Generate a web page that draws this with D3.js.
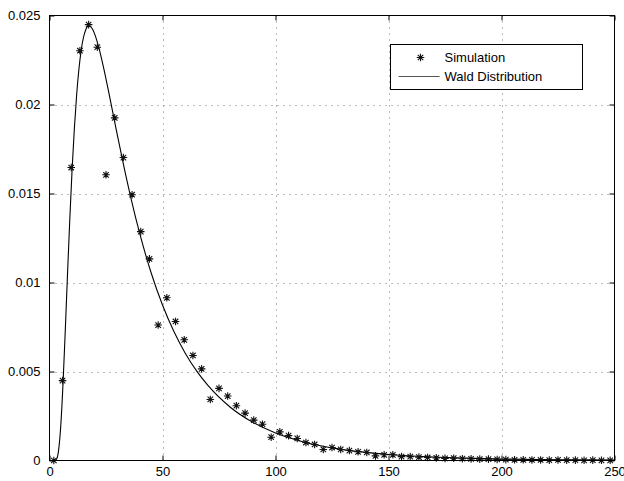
<!DOCTYPE html>
<html>
<head>
<meta charset="utf-8">
<script src="https://cdn.jsdelivr.net/npm/d3@7"></script>
<style>
  html, body { margin: 0; padding: 0; background: #fff; }
  svg { display: block; }
  text { font-family: "Liberation Sans", Arial, Helvetica, sans-serif; font-size: 13px; fill: #000; }
</style>
</head>
<body>
<svg id="chart" width="624" height="481"></svg>
<script>
// Histogram bin centres of the simulated samples (65 bins over 0–250)
const simX = [
  1.92, 5.77, 9.62, 13.46, 17.31, 21.15, 25.00, 28.85, 32.69, 36.54,
  40.38, 44.23, 48.08, 51.92, 55.77, 59.62, 63.46, 67.31, 71.15, 75.00,
  78.85, 82.69, 86.54, 90.38, 94.23, 98.08, 101.92, 105.77, 109.62, 113.46,
  117.31, 121.15, 125.00, 128.85, 132.69, 136.54, 140.38, 144.23, 148.08, 151.92,
  155.77, 159.62, 163.46, 167.31, 171.15, 175.00, 178.85, 182.69, 186.54, 190.38,
  194.23, 198.08, 201.92, 205.77, 209.62, 213.46, 217.31, 221.15, 225.00, 228.85,
  232.69, 236.54, 240.38, 244.23, 248.08
];
// Normalised histogram heights (simulation)
const simY = [
  0.00000, 0.00449, 0.01646, 0.02302, 0.02449, 0.02322, 0.01605, 0.01925, 0.01702, 0.01493,
  0.01286, 0.01133, 0.00761, 0.00914, 0.00781, 0.00678, 0.00590, 0.00515, 0.00343, 0.00405,
  0.00362, 0.00308, 0.00266, 0.00227, 0.00204, 0.00131, 0.00161, 0.00140, 0.00124, 0.00101,
  0.00090, 0.00062, 0.00073, 0.00062, 0.00056, 0.00049, 0.00045, 0.00026, 0.00032, 0.00032,
  0.00022, 0.00022, 0.00019, 0.00017, 0.00015, 0.00012, 0.00013, 0.00010, 0.00009, 0.00008,
  0.00008, 0.00006, 0.00005, 0.00004, 0.00004, 0.00003, 0.00003, 0.00002, 0.00003, 0.00002,
  0.00002, 0.00001, 0.00002, 0.00001, 0.00001
];
// Wald (inverse Gaussian) density, tabulated
const waldX = [
  0, 1, 2, 3, 4, 5, 6, 7, 8, 9, 10, 11, 12, 13, 14, 15, 16, 17, 18, 19, 20,
  22, 24, 26, 28, 30, 33, 36, 40, 45, 50, 55, 60, 65, 70, 80, 90, 100,
  110, 120, 130, 140, 150, 165, 180, 200, 225, 250
];
const waldY = [
  0, 0, 0.0000005, 0.0000584, 0.000558, 0.001984, 0.004370, 0.007367, 0.010557, 0.013615,
  0.016346, 0.018656, 0.020523, 0.021966, 0.023027, 0.023750, 0.024189, 0.024389, 0.024393, 0.024238,
  0.023954, 0.023111, 0.022027, 0.020817, 0.019556, 0.018293, 0.016463, 0.014757, 0.012714, 0.010535,
  0.008735, 0.007257, 0.006044, 0.005049, 0.004230, 0.002994, 0.002143, 0.001548,
  0.001128, 0.000828, 0.000612, 0.000455, 0.000340, 0.000222, 0.000146, 0.0000845, 0.0000434, 0.0000226
];
const xTicks = [0, 50, 100, 150, 200, 250];
const yTicks = [0, 0.005, 0.01, 0.015, 0.02, 0.025];
const yTickLabels = ["0", "0.005", "0.01", "0.015", "0.02", "0.025"];
const legendLabels = ["Simulation", "Wald Distribution"];

const svg = d3.select("#chart");
const plotL = 49.5, plotR = 614.5, plotT = 15.5, plotB = 460.5;

const x = d3.scaleLinear().domain([0, 250]).range([plotL, plotR]);
const y = d3.scaleLinear().domain([0, 0.025]).range([plotB, plotT]);

// dotted grid
const grid = svg.append("g")
  .attr("stroke", "#777").attr("stroke-width", 1).attr("stroke-dasharray", "1,5");
grid.selectAll("line.gx").data(xTicks.slice(1, -1)).join("line")
  .attr("x1", d => Math.round(x(d)) + 0.5).attr("x2", d => Math.round(x(d)) + 0.5)
  .attr("y1", plotT).attr("y2", plotB);
grid.selectAll("line.gy").data(yTicks.slice(1, -1)).join("line")
  .attr("y1", d => Math.round(y(d)) + 0.5).attr("y2", d => Math.round(y(d)) + 0.5)
  .attr("x1", plotL).attr("x2", plotR);

// axes with inward ticks on all four sides
const tickLen = 5;
const axB = svg.append("g").attr("transform", `translate(0,${plotB})`)
  .call(d3.axisBottom(x).tickValues(xTicks).tickSize(-tickLen).tickPadding(tickLen + 6));
const axT = svg.append("g").attr("transform", `translate(0,${plotT})`)
  .call(d3.axisTop(x).tickValues(xTicks).tickSize(-tickLen).tickFormat(""));
const axL = svg.append("g").attr("transform", `translate(${plotL},0)`)
  .call(d3.axisLeft(y).tickValues(yTicks).tickSize(-tickLen).tickPadding(tickLen + 4)
    .tickFormat((d, i) => yTickLabels[i]));
const axR = svg.append("g").attr("transform", `translate(${plotR},0)`)
  .call(d3.axisRight(y).tickValues(yTicks).tickSize(-tickLen).tickFormat(""));
[axB, axT, axL, axR].forEach(g => {
  g.select(".domain").remove();
  g.selectAll("line").attr("stroke", "#000");
  g.selectAll("text").attr("font-family", null).attr("font-size", null).attr("fill", "#000");
});
axB.selectAll("text").attr("dy", "0.35em");

// density curve
const line = d3.line()
  .x((d, i) => x(waldX[i]))
  .y(d => y(d))
  .curve(d3.curveMonotoneX);
svg.append("path")
  .datum(waldY)
  .attr("fill", "none").attr("stroke", "#000").attr("stroke-width", 1.1)
  .attr("d", line);

// asterisk markers
function star(h) {
  const a = h * 0.72;
  return `M${-h},0H${h}M0,${-h}V${h}M${-a},${-a}L${a},${a}M${-a},${a}L${a},${-a}`;
}
svg.append("g").selectAll("path").data(simY).join("path")
  .attr("transform", (d, i) => `translate(${x(simX[i])},${y(d)})`)
  .attr("d", star(3.8))
  .attr("fill", "none").attr("stroke", "#111").attr("stroke-width", 1.1);

// plot box
svg.append("rect")
  .attr("x", plotL).attr("y", plotT)
  .attr("width", plotR - plotL).attr("height", plotB - plotT)
  .attr("fill", "none").attr("stroke", "#000").attr("stroke-width", 1);

// legend
const lg = svg.append("g");
lg.append("rect")
  .attr("x", 390.5).attr("y", 44.5).attr("width", 192).attr("height", 45)
  .attr("fill", "#fff").attr("stroke", "#000").attr("stroke-width", 1);
lg.append("path")
  .attr("transform", "translate(420.5,57.5)")
  .attr("d", star(3.8))
  .attr("fill", "none").attr("stroke", "#111").attr("stroke-width", 1.1);
lg.append("line")
  .attr("x1", 398.5).attr("x2", 439.5).attr("y1", 76.5).attr("y2", 76.5)
  .attr("stroke", "#555").attr("stroke-width", 1.2);
lg.append("text").attr("x", 444.5).attr("y", 57.5).attr("dy", "0.35em").text(legendLabels[0]);
lg.append("text").attr("x", 444.5).attr("y", 76.5).attr("dy", "0.35em").text(legendLabels[1]);
</script>
</body>
</html>
